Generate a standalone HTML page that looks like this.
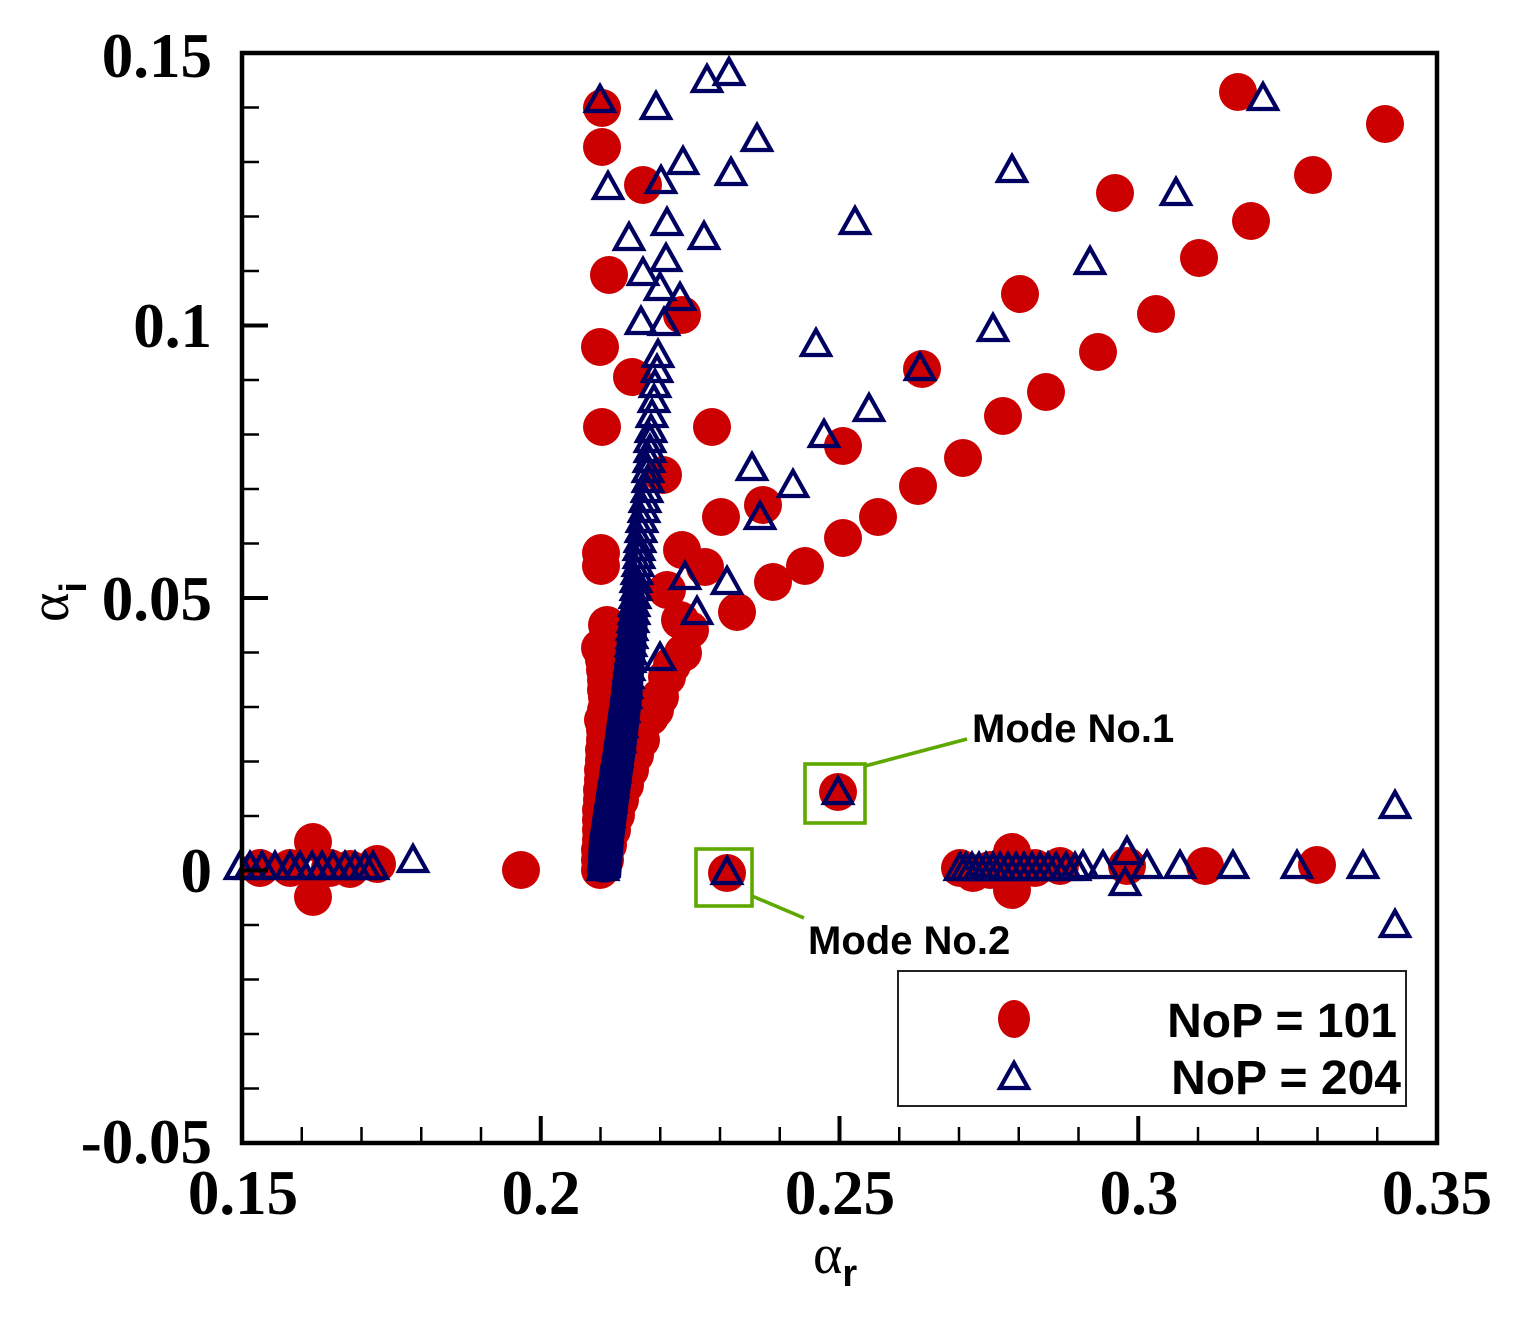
<!DOCTYPE html>
<html>
<head>
<meta charset="utf-8">
<style>
  html, body { margin: 0; padding: 0; background: #ffffff; }
  svg { display: block; }
</style>
</head>
<body>
<svg xmlns="http://www.w3.org/2000/svg" width="1517" height="1318" viewBox="0 0 1517 1318">
  <defs>
    <polygon id="t" points="0,-14 -14,11 14,11" fill="none" stroke="#000060" stroke-width="4.2" stroke-linejoin="miter"/>
  </defs>
  <rect x="0" y="0" width="1517" height="1318" fill="#ffffff"/>

  <g fill="#cc0000">
    <circle cx="602" cy="108" r="19"/>
    <circle cx="602" cy="147" r="19"/>
    <circle cx="643" cy="185" r="19"/>
    <circle cx="609" cy="275" r="19"/>
    <circle cx="600" cy="347" r="19"/>
    <circle cx="682" cy="315" r="19"/>
    <circle cx="632" cy="377" r="19"/>
    <circle cx="602" cy="427" r="19"/>
    <circle cx="712" cy="427" r="19"/>
    <circle cx="663" cy="475" r="19"/>
    <circle cx="721" cy="517" r="19"/>
    <circle cx="763" cy="505" r="19"/>
    <circle cx="843" cy="446" r="19"/>
    <circle cx="922" cy="369" r="19"/>
    <circle cx="1020" cy="294" r="19"/>
    <circle cx="1115" cy="193" r="19"/>
    <circle cx="1238" cy="92" r="19"/>
    <circle cx="1385" cy="124" r="19"/>
    <circle cx="1313" cy="175" r="19"/>
    <circle cx="1251" cy="221" r="19"/>
    <circle cx="1199" cy="258" r="19"/>
    <circle cx="1156" cy="314" r="19"/>
    <circle cx="1098" cy="352" r="19"/>
    <circle cx="1046" cy="392" r="19"/>
    <circle cx="1003" cy="416" r="19"/>
    <circle cx="963" cy="458" r="19"/>
    <circle cx="918" cy="486" r="19"/>
    <circle cx="878" cy="517" r="19"/>
    <circle cx="843" cy="538" r="19"/>
    <circle cx="805" cy="566" r="19"/>
    <circle cx="773" cy="582" r="19"/>
    <circle cx="737" cy="612" r="19"/>
    <circle cx="682" cy="550" r="19"/>
    <circle cx="705" cy="567" r="19"/>
    <circle cx="667" cy="590" r="19"/>
    <circle cx="680" cy="620" r="19"/>
    <circle cx="601" cy="553" r="19"/>
    <circle cx="601" cy="566" r="19"/>
    <circle cx="607" cy="625" r="19"/>
    <circle cx="600" cy="648" r="19"/>
    <circle cx="683" cy="653" r="19"/>
    <circle cx="667" cy="677" r="19"/>
    <circle cx="660" cy="697" r="19"/>
    <circle cx="650" cy="717" r="19"/>
    <circle cx="607" cy="697" r="19"/>
    <circle cx="603" cy="720" r="19"/>
    <circle cx="600" cy="870" r="19"/>
    <circle cx="600" cy="860" r="19"/>
    <circle cx="600" cy="850" r="19"/>
    <circle cx="601" cy="840" r="19"/>
    <circle cx="601" cy="830" r="19"/>
    <circle cx="601" cy="820" r="19"/>
    <circle cx="601" cy="810" r="19"/>
    <circle cx="602" cy="800" r="19"/>
    <circle cx="602" cy="790" r="19"/>
    <circle cx="603" cy="780" r="19"/>
    <circle cx="603" cy="770" r="19"/>
    <circle cx="604" cy="760" r="19"/>
    <circle cx="604" cy="750" r="19"/>
    <circle cx="605" cy="740" r="19"/>
    <circle cx="605" cy="730" r="19"/>
    <circle cx="606" cy="710" r="19"/>
    <circle cx="606" cy="690" r="19"/>
    <circle cx="606" cy="680" r="19"/>
    <circle cx="605" cy="670" r="19"/>
    <circle cx="604" cy="660" r="19"/>
    <circle cx="605" cy="860" r="19"/>
    <circle cx="608" cy="845" r="19"/>
    <circle cx="612" cy="830" r="19"/>
    <circle cx="616" cy="815" r="19"/>
    <circle cx="620" cy="800" r="19"/>
    <circle cx="625" cy="785" r="19"/>
    <circle cx="630" cy="770" r="19"/>
    <circle cx="635" cy="755" r="19"/>
    <circle cx="641" cy="740" r="19"/>
    <circle cx="655" cy="710" r="19"/>
    <circle cx="672" cy="665" r="19"/>
    <circle cx="690" cy="630" r="19"/>
    <circle cx="838" cy="792" r="19"/>
    <circle cx="727" cy="873" r="19"/>
    <circle cx="260" cy="868" r="19"/>
    <circle cx="290" cy="868" r="19"/>
    <circle cx="313" cy="842" r="19"/>
    <circle cx="313" cy="897" r="19"/>
    <circle cx="330" cy="868" r="19"/>
    <circle cx="350" cy="869" r="19"/>
    <circle cx="377" cy="864" r="19"/>
    <circle cx="521" cy="870" r="19"/>
    <circle cx="960" cy="868" r="19"/>
    <circle cx="973" cy="873" r="19"/>
    <circle cx="990" cy="870" r="19"/>
    <circle cx="1012" cy="852" r="19"/>
    <circle cx="1012" cy="890" r="19"/>
    <circle cx="1035" cy="868" r="19"/>
    <circle cx="1060" cy="866" r="19"/>
    <circle cx="1127" cy="866" r="19"/>
    <circle cx="1205" cy="866" r="19"/>
    <circle cx="1317" cy="865" r="19"/>
  </g>

  <path d="M587,878 L589,840 L595,800 L603,750 L610,700 L615,660 L619,620 L626,570 L641,570 L648,620 L645,660 L642,700 L636,750 L629,800 L624,840 L621,878 Q604,887 587,878 Z" fill="#000060"/>

  <g>
    <use href="#t" x="600" y="100"/>
    <use href="#t" x="656" y="107"/>
    <use href="#t" x="707" y="80"/>
    <use href="#t" x="729" y="73"/>
    <use href="#t" x="757" y="139"/>
    <use href="#t" x="608" y="187"/>
    <use href="#t" x="661" y="181"/>
    <use href="#t" x="683" y="162"/>
    <use href="#t" x="731" y="173"/>
    <use href="#t" x="667" y="223"/>
    <use href="#t" x="629" y="238"/>
    <use href="#t" x="704" y="237"/>
    <use href="#t" x="666" y="259"/>
    <use href="#t" x="643" y="273"/>
    <use href="#t" x="660" y="288"/>
    <use href="#t" x="680" y="298"/>
    <use href="#t" x="641" y="322"/>
    <use href="#t" x="664" y="323"/>
    <use href="#t" x="855" y="222"/>
    <use href="#t" x="1012" y="170"/>
    <use href="#t" x="1176" y="193"/>
    <use href="#t" x="1263" y="98"/>
    <use href="#t" x="1090" y="262"/>
    <use href="#t" x="993" y="329"/>
    <use href="#t" x="816" y="344"/>
    <use href="#t" x="869" y="409"/>
    <use href="#t" x="920" y="368"/>
    <use href="#t" x="824" y="435"/>
    <use href="#t" x="752" y="468"/>
    <use href="#t" x="793" y="485"/>
    <use href="#t" x="760" y="517"/>
    <use href="#t" x="685" y="577"/>
    <use href="#t" x="727" y="582"/>
    <use href="#t" x="697" y="612"/>
    <use href="#t" x="660" y="658"/>
    <use href="#t" x="838" y="792"/>
    <use href="#t" x="727" y="872"/>
    <use href="#t" x="658" y="355"/>
    <use href="#t" x="657" y="370"/>
    <use href="#t" x="655" y="385"/>
    <use href="#t" x="654" y="400"/>
    <use href="#t" x="652" y="415"/>
    <use href="#t" x="651" y="430"/>
    <use href="#t" x="650" y="440"/>
    <use href="#t" x="650" y="450"/>
    <use href="#t" x="649" y="460"/>
    <use href="#t" x="648" y="470"/>
    <use href="#t" x="648" y="480"/>
    <use href="#t" x="647" y="490"/>
    <use href="#t" x="645" y="500"/>
    <use href="#t" x="644" y="510"/>
    <use href="#t" x="642" y="520"/>
    <use href="#t" x="641" y="530"/>
    <use href="#t" x="640" y="540"/>
    <use href="#t" x="639" y="548"/>
    <use href="#t" x="639" y="556"/>
    <use href="#t" x="638" y="564"/>
    <use href="#t" x="637" y="572"/>
    <use href="#t" x="636" y="580"/>
    <use href="#t" x="636" y="588"/>
    <use href="#t" x="635" y="596"/>
    <use href="#t" x="634" y="604"/>
    <use href="#t" x="634" y="612"/>
    <use href="#t" x="633" y="620"/>
    <use href="#t" x="632" y="628"/>
    <use href="#t" x="632" y="636"/>
    <use href="#t" x="631" y="644"/>
    <use href="#t" x="631" y="652"/>
    <use href="#t" x="630" y="660"/>
    <use href="#t" x="629" y="668"/>
    <use href="#t" x="628" y="676"/>
    <use href="#t" x="627" y="686"/>
    <use href="#t" x="626" y="696"/>
    <use href="#t" x="624" y="710"/>
    <use href="#t" x="622" y="725"/>
    <use href="#t" x="620" y="740"/>
    <use href="#t" x="617" y="755"/>
    <use href="#t" x="615" y="770"/>
    <use href="#t" x="613" y="785"/>
    <use href="#t" x="611" y="800"/>
    <use href="#t" x="609" y="815"/>
    <use href="#t" x="607" y="830"/>
    <use href="#t" x="605" y="845"/>
    <use href="#t" x="604" y="858"/>
    <use href="#t" x="603" y="868"/>
    <use href="#t" x="240" y="867"/>
    <use href="#t" x="250" y="867"/>
    <use href="#t" x="262" y="867"/>
    <use href="#t" x="275" y="867"/>
    <use href="#t" x="290" y="867"/>
    <use href="#t" x="300" y="867"/>
    <use href="#t" x="312" y="867"/>
    <use href="#t" x="322" y="867"/>
    <use href="#t" x="333" y="867"/>
    <use href="#t" x="345" y="867"/>
    <use href="#t" x="355" y="867"/>
    <use href="#t" x="365" y="867"/>
    <use href="#t" x="373" y="867"/>
    <use href="#t" x="413" y="860"/>
    <use href="#t" x="960" y="868"/>
    <use href="#t" x="966" y="868"/>
    <use href="#t" x="972" y="868"/>
    <use href="#t" x="979" y="868"/>
    <use href="#t" x="986" y="868"/>
    <use href="#t" x="993" y="868"/>
    <use href="#t" x="1000" y="868"/>
    <use href="#t" x="1008" y="868"/>
    <use href="#t" x="1016" y="868"/>
    <use href="#t" x="1024" y="868"/>
    <use href="#t" x="1032" y="868"/>
    <use href="#t" x="1040" y="868"/>
    <use href="#t" x="1048" y="868"/>
    <use href="#t" x="1056" y="868"/>
    <use href="#t" x="1066" y="868"/>
    <use href="#t" x="1075" y="868"/>
    <use href="#t" x="1083" y="866"/>
    <use href="#t" x="1103" y="866"/>
    <use href="#t" x="1127" y="852"/>
    <use href="#t" x="1125" y="883"/>
    <use href="#t" x="1147" y="866"/>
    <use href="#t" x="1180" y="866"/>
    <use href="#t" x="1233" y="866"/>
    <use href="#t" x="1297" y="866"/>
    <use href="#t" x="1363" y="866"/>
    <use href="#t" x="1395" y="806"/>
    <use href="#t" x="1395" y="925"/>
  </g>

  <rect x="242" y="53" width="1195" height="1090" fill="none" stroke="#000" stroke-width="4.5"/>

  <g stroke="#000" stroke-width="2.5">
    <line x1="242" y1="325.5" x2="268" y2="325.5" stroke-width="4"/>
    <line x1="242" y1="598" x2="268" y2="598" stroke-width="4"/>
    <line x1="242" y1="870.5" x2="268" y2="870.5" stroke-width="4"/>
    <line x1="242" y1="107.5" x2="259" y2="107.5"/>
    <line x1="242" y1="162" x2="259" y2="162"/>
    <line x1="242" y1="216.5" x2="259" y2="216.5"/>
    <line x1="242" y1="271" x2="259" y2="271"/>
    <line x1="242" y1="380" x2="259" y2="380"/>
    <line x1="242" y1="434.5" x2="259" y2="434.5"/>
    <line x1="242" y1="489" x2="259" y2="489"/>
    <line x1="242" y1="543.5" x2="259" y2="543.5"/>
    <line x1="242" y1="652.5" x2="259" y2="652.5"/>
    <line x1="242" y1="707" x2="259" y2="707"/>
    <line x1="242" y1="761.5" x2="259" y2="761.5"/>
    <line x1="242" y1="816" x2="259" y2="816"/>
    <line x1="242" y1="925" x2="259" y2="925"/>
    <line x1="242" y1="979.5" x2="259" y2="979.5"/>
    <line x1="242" y1="1034" x2="259" y2="1034"/>
    <line x1="242" y1="1088.5" x2="259" y2="1088.5"/>
  </g>
  <g stroke="#000" stroke-width="2.5">
    <line x1="540.75" y1="1143" x2="540.75" y2="1116" stroke-width="4"/>
    <line x1="839.5" y1="1143" x2="839.5" y2="1116" stroke-width="4"/>
    <line x1="1138.25" y1="1143" x2="1138.25" y2="1116" stroke-width="4"/>
    <line x1="301.75" y1="1143" x2="301.75" y2="1127"/>
    <line x1="361.5" y1="1143" x2="361.5" y2="1127"/>
    <line x1="421.25" y1="1143" x2="421.25" y2="1127"/>
    <line x1="481" y1="1143" x2="481" y2="1127"/>
    <line x1="600.5" y1="1143" x2="600.5" y2="1127"/>
    <line x1="660.25" y1="1143" x2="660.25" y2="1127"/>
    <line x1="720" y1="1143" x2="720" y2="1127"/>
    <line x1="779.75" y1="1143" x2="779.75" y2="1127"/>
    <line x1="899.25" y1="1143" x2="899.25" y2="1127"/>
    <line x1="959" y1="1143" x2="959" y2="1127"/>
    <line x1="1018.75" y1="1143" x2="1018.75" y2="1127"/>
    <line x1="1078.5" y1="1143" x2="1078.5" y2="1127"/>
    <line x1="1198" y1="1143" x2="1198" y2="1127"/>
    <line x1="1257.75" y1="1143" x2="1257.75" y2="1127"/>
    <line x1="1317.5" y1="1143" x2="1317.5" y2="1127"/>
    <line x1="1377.25" y1="1143" x2="1377.25" y2="1127"/>
  </g>

  <g font-family="'Liberation Serif', 'Times New Roman', serif" font-weight="bold" font-size="63" fill="#000" text-anchor="end">
    <text x="212" y="77">0.15</text>
    <text x="212" y="347">0.1</text>
    <text x="212" y="620">0.05</text>
    <text x="212" y="892">0</text>
    <text x="212" y="1163">-0.05</text>
  </g>
  <g font-family="'Liberation Serif', 'Times New Roman', serif" font-weight="bold" font-size="63" fill="#000" text-anchor="middle">
    <text x="243" y="1214">0.15</text>
    <text x="541" y="1214">0.2</text>
    <text x="840" y="1214">0.25</text>
    <text x="1139" y="1214">0.3</text>
    <text x="1437" y="1214">0.35</text>
  </g>

  <text x="813" y="1273" font-family="'Liberation Serif', serif" font-size="56" fill="#000">α<tspan font-family="'Liberation Sans', sans-serif" font-weight="bold" font-size="38" dy="13">r</tspan></text>
  <text transform="translate(68,622) rotate(-90)" font-family="'Liberation Serif', serif" font-size="56" fill="#000">α<tspan font-family="'Liberation Sans', sans-serif" font-weight="bold" font-size="38" dy="18">i</tspan></text>

  <g fill="none" stroke="#5fa800" stroke-width="3.6">
    <rect x="805" y="764" width="60" height="59"/>
    <line x1="865" y1="766" x2="967" y2="739"/>
    <rect x="696" y="849" width="56" height="57"/>
    <line x1="752" y1="896" x2="804" y2="918"/>
  </g>
  <g font-family="'Liberation Sans', Arial, sans-serif" font-weight="bold" font-size="40" fill="#000">
    <text x="972" y="742">Mode No.1</text>
    <text x="808" y="954">Mode No.2</text>
  </g>

  <rect x="898" y="971" width="508" height="135" fill="#fff" stroke="#222" stroke-width="2"/>
  <ellipse cx="1014" cy="1019" rx="16" ry="19" fill="#cc0000"/>
  <use href="#t" x="1014" y="1077"/>
  <g font-family="'Liberation Sans', Arial, sans-serif" font-weight="bold" font-size="48" fill="#000" text-anchor="end">
    <text x="1397" y="1037">NoP = 101</text>
    <text x="1401" y="1094">NoP = 204</text>
  </g>
</svg>
</body>
</html>
